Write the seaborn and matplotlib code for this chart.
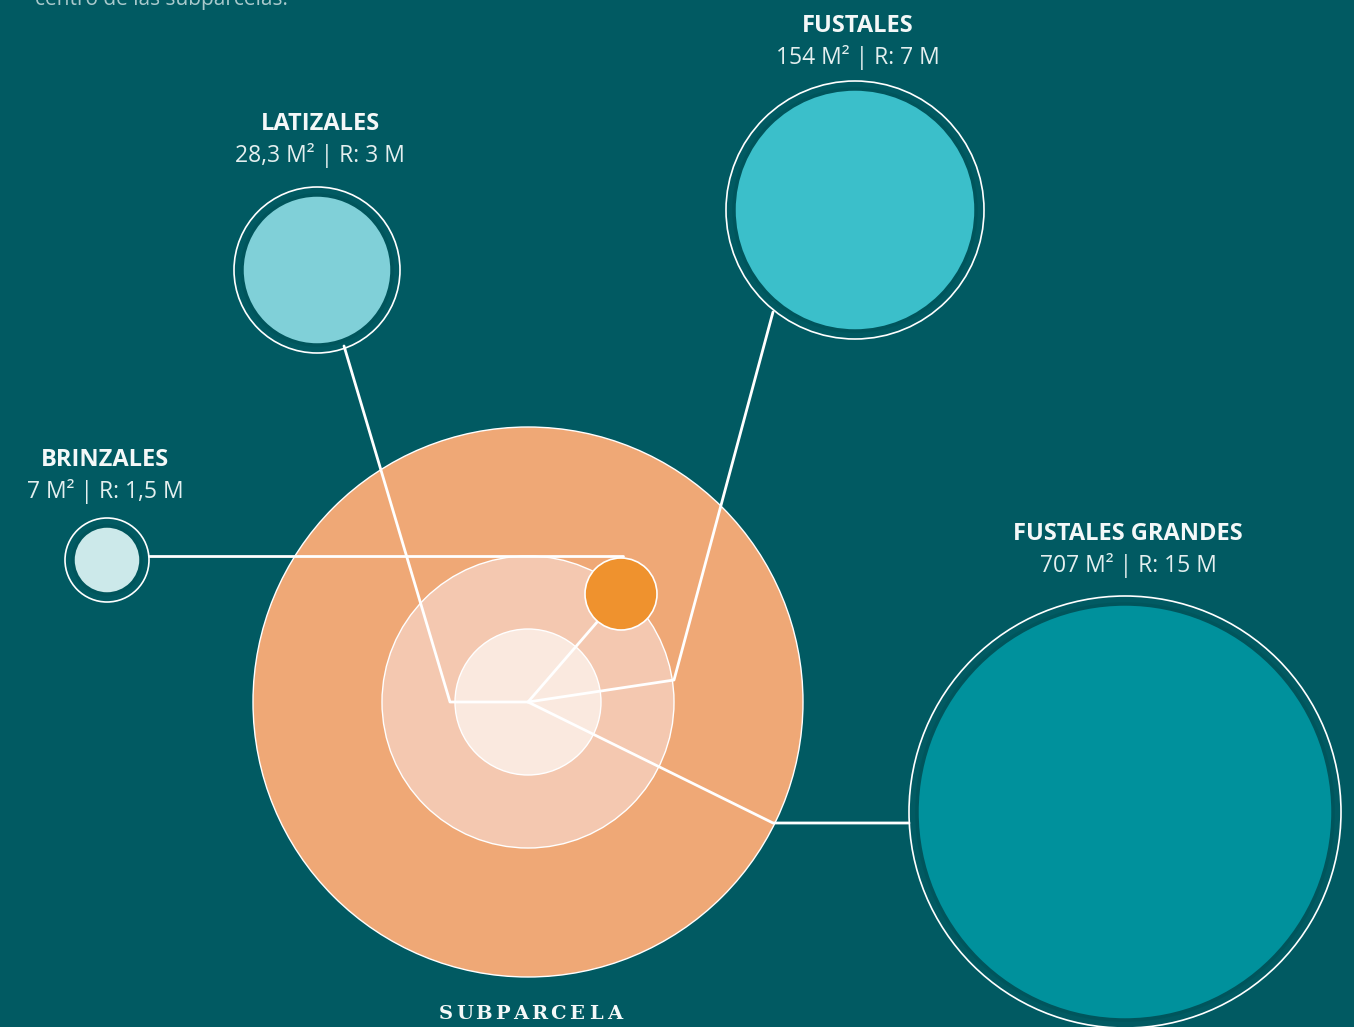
import matplotlib
matplotlib.use("Agg")
import matplotlib.pyplot as plt
from matplotlib.patches import Circle
from matplotlib.font_manager import FontProperties
import seaborn as sns
import pandas as pd

# data
categories = ["BRINZALES", "LATIZALES", "FUSTALES", "FUSTALES GRANDES"]
areas_m2 = ["7", "28,3", "154", "707"]
radius_m = ["1,5", "3", "7", "15"]
fill_colors = ["#cce9ea", "#80d0d8", "#3bbfca", "#00919c"]

# layout (pixel space)
bubble_xy = [(107, 560), (317, 270), (855, 210), (1125, 812)]
bubble_r = [34, 75, 121, 208]
ring_gap = [8, 8, 8, 8]
label_y = [460, 124, 26, 534]
label_x = [105, 320, 858, 1128]

center = (528, 702)
zone_r = [275, 146, 73]
zone_colors = ["#efa876", "#f4c8b0", "#fae9df"]
marker_xy = (621, 594)
marker_r = 36

paths = [
    [(149, 556), (623, 556)],
    [(344, 346), (450, 702), (528, 702)],
    [(773, 312), (674, 680), (528, 702)],
    [(528, 702), (773, 823), (909, 823)],
    [(528, 702), (598, 621)],
]

BG = "#015a62"
sns.set_style("white")
plt.rcParams["font.family"] = ["Open Sans", "DejaVu Sans"]

fig = plt.figure(figsize=(13.54, 10.27), dpi=100)
fig.patch.set_facecolor(BG)
ax = fig.add_axes([0, 0, 1, 1])
ax.set_facecolor(BG)

# subparcela zones
for r, c in zip(zone_r, zone_colors):
    ax.add_patch(Circle(center, r, facecolor=c, edgecolor="white", lw=1.0, zorder=1))

# category bubbles
for (x, y), r, g, c in zip(bubble_xy, bubble_r, ring_gap, fill_colors):
    ax.add_patch(Circle((x, y), r + g, facecolor="none", edgecolor="white", lw=1.2, zorder=2))
    ax.add_patch(Circle((x, y), r, facecolor=c, edgecolor="#00555c", lw=2.5, zorder=2))

# connectors
for p in paths:
    df = pd.DataFrame(p, columns=["x", "y"])
    sns.lineplot(data=df, x="x", y="y", sort=False, estimator=None, color="white",
                 lw=2.0, ax=ax, zorder=3)

ax.add_patch(Circle(marker_xy, marker_r, facecolor="#ef922e", edgecolor="white", lw=1.2, zorder=4))

# labels
for name, a, rm, x, y in zip(categories, areas_m2, radius_m, label_x, label_y):
    ax.text(x, y, name, ha="center", va="center", fontsize=17, fontweight="bold",
            color="#f4f8f8", zorder=5)
    ax.text(x, y + 32, f"{a} M\u00b2 | R: {rm} M", ha="center", va="center",
            fontsize=16.5, color="#e4efef", zorder=5)

slab = FontProperties(family="DejaVu Serif", weight="bold", size=14)
title = "SUBPARCELA"
for i, ch in enumerate(title):
    ax.text(446 + i * 18.7, 1014, ch, ha="center", va="center",
            fontproperties=slab, color="#f4f8f8")
ax.text(35, 0, "centro de las subparcelas.", ha="left", va="center", fontsize=15,
        color="#a9c9cc")

ax.set_xlim(0, 1354)
ax.set_ylim(1027, 0)
ax.set_aspect("equal")
ax.axis("off")
fig.savefig("out.png", dpi=100, facecolor=BG)
